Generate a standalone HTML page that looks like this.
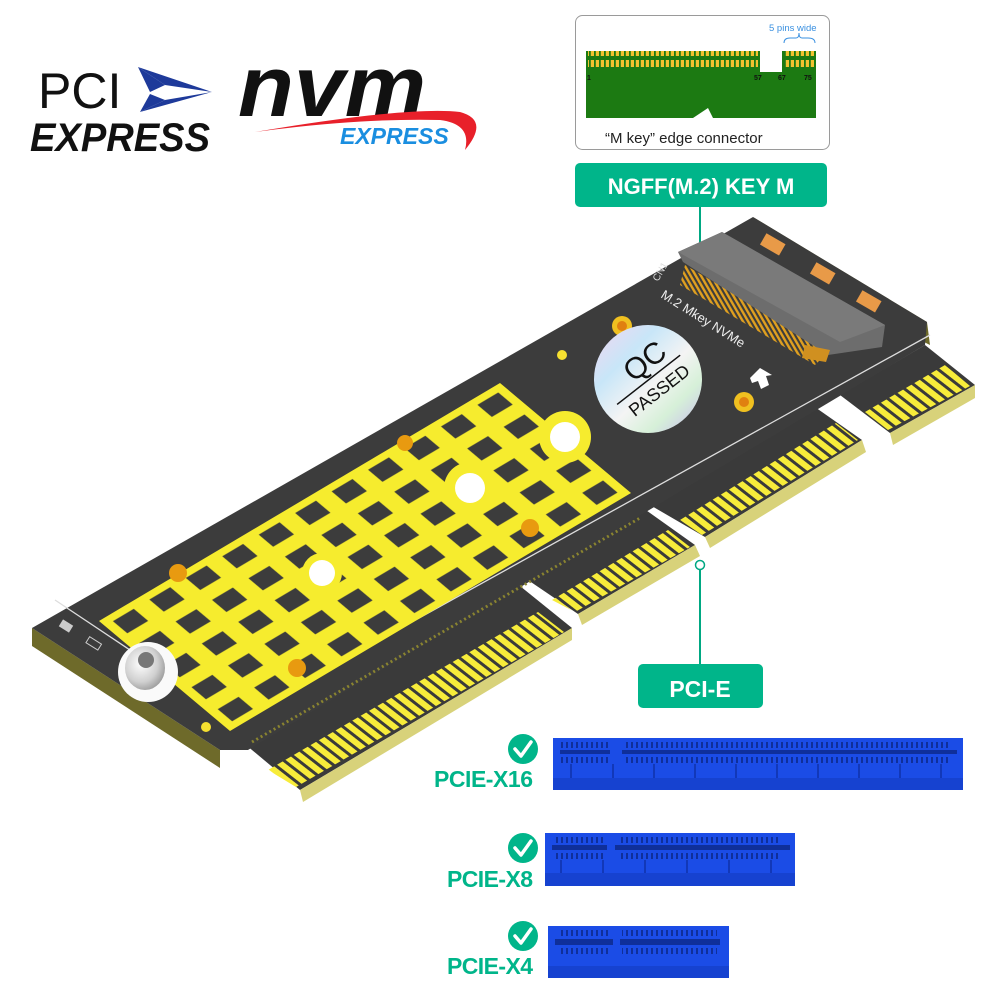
<!DOCTYPE html>
<html><head><meta charset="utf-8"><style>
html,body{margin:0;padding:0;background:#fff;width:1000px;height:1000px;overflow:hidden}
svg{display:block}
text{font-family:"Liberation Sans",sans-serif}
</style></head><body>
<svg width="1000" height="1000" viewBox="0 0 1000 1000" xmlns="http://www.w3.org/2000/svg">
<defs>
<pattern id="pads" width="9" height="60" patternUnits="userSpaceOnUse" patternTransform="rotate(-52)">
<rect x="0" y="0" width="6" height="60" fill="#f7ec3a"/>
</pattern>
<pattern id="mesh" width="0.0909" height="0.2" patternUnits="userSpaceOnUse">
<rect x="0.02" y="0.045" width="0.052" height="0.11" fill="#3c3c3c"/>
</pattern>
<pattern id="pins" width="5" height="20" patternUnits="userSpaceOnUse">
<rect x="0.8" y="0" width="3.2" height="16" fill="#f2c230"/>
</pattern>
<pattern id="cpins" width="4.5" height="30" patternUnits="userSpaceOnUse" patternTransform="rotate(-30)">
<rect x="0" y="0" width="2.4" height="30" fill="#e0a020"/>
</pattern>
<pattern id="slotpins" width="5" height="10" patternUnits="userSpaceOnUse">
<rect x="1" y="0" width="2" height="10" fill="#0f2f9a"/>
</pattern>
<linearGradient id="holo" x1="0" y1="0" x2="1" y2="1">
<stop offset="0" stop-color="#f3d6f0"/><stop offset="0.3" stop-color="#c8e6f8"/><stop offset="0.55" stop-color="#f4f4f4"/><stop offset="0.75" stop-color="#d6f0d8"/><stop offset="1" stop-color="#c8b8f0"/>
</linearGradient>
<radialGradient id="metal" cx="0.4" cy="0.4" r="0.7">
<stop offset="0" stop-color="#ffffff"/><stop offset="0.6" stop-color="#d0d0d0"/><stop offset="1" stop-color="#909090"/>
</radialGradient>
</defs>

<!-- Logos -->
<text x="38" y="108" font-size="50" fill="#111">PCI</text>
<polygon points="138,67 212,92 165,85" fill="#1e3a9a"/>
<polygon points="138,67 165,85 150,92" fill="#1e3a9a"/>
<polygon points="140,112 212,92 165,100" fill="#1e3a9a"/>
<polygon points="140,112 165,100 150,94" fill="#1e3a9a"/>
<text x="30" y="151" font-size="40" font-weight="bold" font-style="italic" fill="#111" textLength="180" lengthAdjust="spacingAndGlyphs">EXPRESS</text>
<text x="238" y="116" font-size="86" font-weight="bold" font-style="italic" fill="#111" textLength="188" lengthAdjust="spacingAndGlyphs">nvm</text>
<path d="M255,132 Q410,106 460,112 Q490,120 465,150 Q472,124 440,120 Q360,118 255,132 Z" fill="#e8202a"/>
<text x="340" y="144" font-size="23" font-weight="bold" font-style="italic" fill="#1a8ee0">EXPRESS</text>

<!-- M key card -->
<rect x="575.5" y="15.5" width="254" height="134" rx="7" fill="#fff" stroke="#9a9a9a"/>
<path d="M586,51 L586,118 L693,118 L708,108 L713,118 L816,118 L816,51 L782,51 L782,72 L760,72 L760,51 Z" fill="#1c7a12"/>
<rect x="588" y="51" width="170" height="16" fill="url(#pins)"/>
<rect x="784" y="51" width="30" height="16" fill="url(#pins)"/>
<text x="587" y="80" font-size="7" font-weight="bold" fill="#111">1</text>
<text x="754" y="80" font-size="7" font-weight="bold" fill="#111">57</text>
<text x="778" y="80" font-size="7" font-weight="bold" fill="#111">67</text>
<text x="804" y="80" font-size="7" font-weight="bold" fill="#111">75</text>
<text x="769" y="31" font-size="9.5" fill="#3a90e0">5 pins wide</text>
<path d="M784,43 Q784,38 790,38 L796,38 Q799,38 799,33 Q799,38 802,38 L808,38 Q815,38 815,43" fill="none" stroke="#3a90e0" stroke-width="1"/>
<text x="605" y="143" font-size="15" fill="#222">“M key”  edge connector</text>

<!-- NGFF label -->
<rect x="575" y="163" width="252" height="44" rx="5" fill="#00b58a"/>
<text x="701" y="194" font-size="22" font-weight="bold" fill="#fff" text-anchor="middle">NGFF(M.2) KEY M</text>
<line x1="700" y1="207" x2="700" y2="254" stroke="#00a882" stroke-width="2"/>

<!-- Board side thickness -->
<polygon points="32,628 220,750 220,768 32,646" fill="#6e6a2a"/>
<polygon points="753,217 927,322 930,345 900,330" fill="#6e6a2a"/>

<!-- Tabs (fingers) -->
<polygon points="240,740 515,582 572,628 300,790" fill="#3a3a3a"/>
<polygon points="300,790 572,628 572,640 303,802" fill="#d8d27a"/>
<polygon points="268,770 538,612 564,632 296,787" fill="url(#pads)"/>

<polygon points="525,578 643,508 695,545 578,614" fill="#3a3a3a"/>
<polygon points="578,614 695,545 700,556 582,625" fill="#d8d27a"/>
<polygon points="552,600 668,530 690,547 575,612" fill="url(#pads)"/>

<polygon points="650,505 812,405 862,440 705,537" fill="#3a3a3a"/>
<polygon points="705,537 862,440 866,452 710,548" fill="#d8d27a"/>
<polygon points="680,520 836,423 858,440 702,535" fill="url(#pads)"/>

<polygon points="840,395 925,345 975,385 890,433" fill="#3a3a3a"/>
<polygon points="890,433 975,385 975,398 893,445" fill="#d8d27a"/>
<polygon points="865,412 945,365 970,386 888,430" fill="url(#pads)"/>

<!-- Board body -->
<polygon points="32,628 753,217 927,322 925,345 248,750 220,750" fill="#3c3c3c"/>
<!-- via row -->
<line x1="252" y1="742" x2="640" y2="518" stroke="#8a8430" stroke-width="3" stroke-dasharray="2,3"/>

<!-- white silkscreen lines -->
<polyline points="55,600 235,720" fill="none" stroke="#ddd" stroke-width="1.3"/>
<line x1="235" y1="720" x2="930" y2="335" stroke="#ddd" stroke-width="1.3"/>

<!-- mesh -->
<g transform="matrix(401,-238,131,110,99,621)">
<rect x="0" y="0" width="1" height="1" fill="#f6ec2e"/>
<rect x="0" y="0" width="1" height="1" fill="url(#mesh)"/>
</g>
<circle cx="565" cy="437" r="26" fill="#f6ec2e"/><circle cx="565" cy="437" r="15" fill="#fff"/>
<circle cx="470" cy="488" r="26" fill="#f6ec2e"/><circle cx="470" cy="488" r="15" fill="#fff"/>
<circle cx="322" cy="573" r="20" fill="#f6ec2e"/><circle cx="322" cy="573" r="13" fill="#fff"/>
<circle cx="405" cy="443" r="8" fill="#e89a10"/>
<circle cx="297" cy="668" r="9" fill="#e89a10"/>
<circle cx="178" cy="573" r="9" fill="#e89a10"/>
<circle cx="530" cy="528" r="9" fill="#e89a10"/>

<!-- standoff -->
<circle cx="148" cy="672" r="30" fill="#fafafa"/>
<ellipse cx="145" cy="668" rx="20" ry="22" fill="url(#metal)"/>
<circle cx="146" cy="660" r="8" fill="#777"/>
<rect x="60" y="622" width="12" height="8" fill="#ccc" transform="rotate(32 66 626)"/>
<rect x="87" y="640" width="14" height="7" fill="none" stroke="#ccc" transform="rotate(32 94 643)"/>

<!-- gold dots -->
<circle cx="622" cy="326" r="10" fill="#f0c020"/><circle cx="622" cy="326" r="5" fill="#e08010"/>
<circle cx="744" cy="402" r="10" fill="#f0c020"/><circle cx="744" cy="402" r="5" fill="#e08010"/>
<circle cx="562" cy="355" r="5" fill="#f6e030"/>
<circle cx="206" cy="727" r="5" fill="#f6e030"/>

<!-- pads -->
<g fill="#e89a48">
<rect x="762" y="238" width="22" height="13" transform="rotate(30 773 244)"/>
<rect x="812" y="267" width="22" height="13" transform="rotate(30 823 273)"/>
<rect x="858" y="295" width="22" height="13" transform="rotate(30 869 301)"/>
</g>

<!-- M.2 connector -->
<polygon points="685,265 830,350 815,365 680,285" fill="url(#cpins)"/>
<polygon points="678,252 722,232 885,325 882,347 828,355 683,262" fill="#6d6d6d"/>
<polygon points="678,252 722,232 885,325 840,342" fill="#7a7a7a"/>
<polygon points="805,345 830,350 826,362 802,358" fill="#d09020"/>
<text x="0" y="0" font-size="10" fill="#ddd" font-family="Liberation Serif" transform="translate(658,282) rotate(-60)">CN1</text>
<text x="0" y="0" font-size="13" fill="#eee" font-family="Liberation Serif" transform="translate(660,297) rotate(32)">M.2  Mkey  NVMe</text>
<polygon points="750,378 760,368 772,375 766,376 769,385 761,389 758,381 752,383" fill="#fff"/>

<!-- QC sticker -->
<circle cx="648" cy="379" r="54" fill="url(#holo)"/>
<g transform="translate(648,379) rotate(-38)">
<text x="-14" y="-6" font-size="30" fill="#111">QC</text>
<line x1="-40" y1="1" x2="40" y2="1" stroke="#111" stroke-width="1.5"/>
<text x="-34" y="22" font-size="18" fill="#111">PASSED</text>
</g>

<!-- PCI-E label -->
<line x1="700" y1="570" x2="700" y2="664" stroke="#00a882" stroke-width="2"/>
<circle cx="700" cy="565" r="4.5" fill="#fff" stroke="#00a882" stroke-width="1.5"/>
<rect x="638" y="664" width="125" height="44" rx="5" fill="#00b58a"/>
<text x="700" y="697" font-size="23" font-weight="bold" fill="#fff" text-anchor="middle">PCI-E</text>

<!-- Slots -->
<g>
<rect x="553" y="738" width="410" height="52" fill="#1b4ce6"/>
<rect x="553" y="778" width="410" height="12" fill="#1642d0"/>
<rect x="560" y="742" width="50" height="6" fill="url(#slotpins)"/>
<rect x="625" y="742" width="325" height="6" fill="url(#slotpins)"/>
<rect x="560" y="750" width="50" height="4" fill="#0f2f9a"/>
<rect x="622" y="750" width="335" height="4" fill="#0f2f9a"/>
<rect x="560" y="757" width="50" height="6" fill="url(#slotpins)"/>
<rect x="625" y="757" width="325" height="6" fill="url(#slotpins)"/>
<g fill="#1238b8"><rect x="570" y="764" width="2" height="14"/><rect x="612" y="764" width="2" height="14"/><rect x="653" y="764" width="2" height="14"/><rect x="694" y="764" width="2" height="14"/><rect x="735" y="764" width="2" height="14"/><rect x="776" y="764" width="2" height="14"/><rect x="817" y="764" width="2" height="14"/><rect x="858" y="764" width="2" height="14"/><rect x="899" y="764" width="2" height="14"/><rect x="940" y="764" width="2" height="14"/></g>
</g>
<g>
<rect x="545" y="833" width="250" height="53" fill="#1b4ce6"/>
<rect x="545" y="873" width="250" height="13" fill="#1642d0"/>
<rect x="556" y="837" width="47" height="6" fill="url(#slotpins)"/>
<rect x="618" y="837" width="160" height="6" fill="url(#slotpins)"/>
<rect x="552" y="845" width="55" height="5" fill="#0f2f9a"/>
<rect x="615" y="845" width="175" height="5" fill="#0f2f9a"/>
<rect x="556" y="853" width="47" height="6" fill="url(#slotpins)"/>
<rect x="618" y="853" width="160" height="6" fill="url(#slotpins)"/>
<g fill="#1238b8"><rect x="560" y="860" width="2" height="13"/><rect x="602" y="860" width="2" height="13"/><rect x="644" y="860" width="2" height="13"/><rect x="686" y="860" width="2" height="13"/><rect x="728" y="860" width="2" height="13"/><rect x="770" y="860" width="2" height="13"/></g>
</g>
<g>
<rect x="548" y="926" width="181" height="52" fill="#1b4ce6"/>
<rect x="548" y="966" width="181" height="12" fill="#1642d0"/>
<rect x="558" y="930" width="50" height="6" fill="url(#slotpins)"/>
<rect x="622" y="930" width="95" height="6" fill="url(#slotpins)"/>
<rect x="555" y="939" width="58" height="6" fill="#0f2f9a"/>
<rect x="620" y="939" width="100" height="6" fill="#0f2f9a"/>
<rect x="558" y="948" width="50" height="6" fill="url(#slotpins)"/>
<rect x="622" y="948" width="95" height="6" fill="url(#slotpins)"/>
</g>

<!-- check labels -->
<g fill="#00b58a">
<circle cx="523" cy="749" r="15"/><circle cx="523" cy="848" r="15"/><circle cx="523" cy="936" r="15"/>
</g>
<g fill="none" stroke="#fff" stroke-width="3.5" stroke-linecap="round" stroke-linejoin="round">
<polyline points="515,749 521,756 531,742"/><polyline points="515,848 521,855 531,841"/><polyline points="515,936 521,943 531,929"/>
</g>
<g font-size="23" font-weight="bold" fill="#00b58a">
<text x="434" y="787" textLength="99">PCIE-X16</text>
<text x="447" y="887" textLength="86">PCIE-X8</text>
<text x="447" y="974" textLength="86">PCIE-X4</text>
</g>
</svg>
</body></html>
